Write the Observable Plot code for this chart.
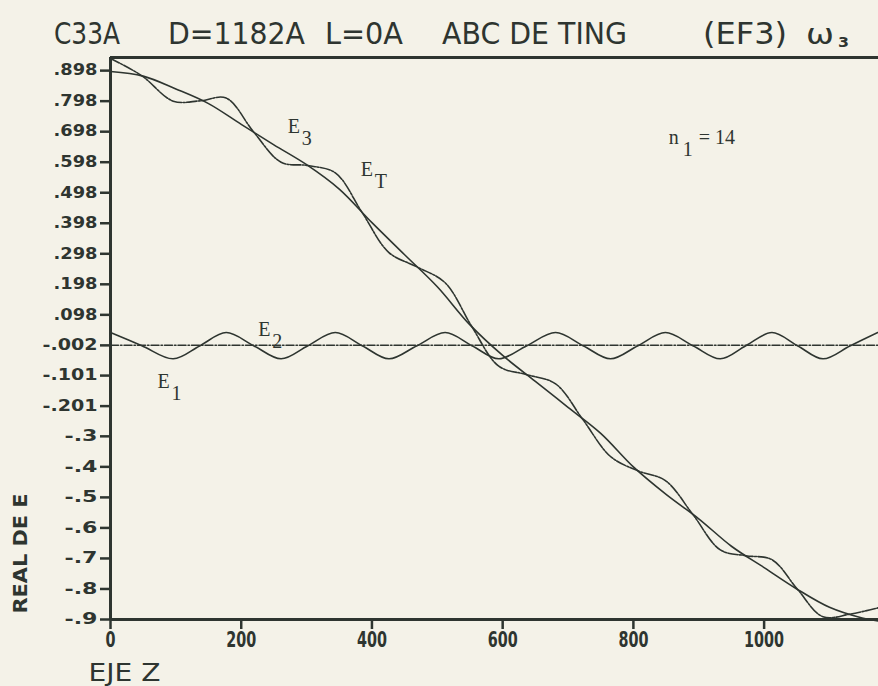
<!DOCTYPE html>
<html><head><meta charset="utf-8">
<script src="https://cdn.jsdelivr.net/npm/d3@7"></script>
<script src="https://cdn.jsdelivr.net/npm/@observablehq/plot@0.6"></script>
<style>
html,body{margin:0;padding:0;background:#f4f2e8;}
#chart svg{display:block;}
</style></head><body>
<div id="chart"></div>
<script>
// ---------- data ----------
const titleTexts = ["C33A", "D=1182A", "L=0A", "ABC DE TING", "(EF3)", "ω", "3"];

const xTicks = [0, 200, 400, 600, 800, 1000];
const yTicks = [0.898, 0.798, 0.698, 0.598, 0.498, 0.398, 0.298, 0.198, 0.098, -0.002, -0.101, -0.201, -0.3, -0.4, -0.5, -0.6, -0.7, -0.8, -0.9];
const yTickLabels = [".898", ".798", ".698", ".598", ".498", ".398", ".298", ".198", ".098", "-.002", "-.101", "-.201", "-.3", "-.4", "-.5", "-.6", "-.7", "-.8", "-.9"];

const e1Z = [0, 200, 400, 600, 800, 1000, 1175];
const e1V = [-0.002, -0.002, -0.002, -0.002, -0.002, -0.002, -0.002];

const e2Z = [0, 48, 96, 137, 177, 219, 261, 302, 344, 385, 426, 469, 512, 553, 594, 637, 681, 723, 765, 807, 849, 891, 933, 972, 1012, 1051, 1090, 1132, 1174];
const e2V = [0.040, -0.003, -0.046, -0.003, 0.040, -0.003, -0.046, -0.003, 0.040, -0.003, -0.046, -0.003, 0.040, -0.003, -0.046, -0.003, 0.040, -0.003, -0.046, -0.003, 0.040, -0.003, -0.046, -0.003, 0.040, -0.003, -0.046, -0.003, 0.040];

const e3Z = [0, 50, 100, 150, 200, 250, 300, 350, 400, 450, 500, 550, 600, 650, 700, 750, 800, 850, 900, 950, 1000, 1050, 1100, 1150, 1175];
const e3V = [0.895, 0.880, 0.838, 0.790, 0.722, 0.655, 0.590, 0.510, 0.400, 0.295, 0.190, 0.065, -0.035, -0.120, -0.205, -0.290, -0.400, -0.490, -0.570, -0.660, -0.730, -0.800, -0.860, -0.895, -0.905];

const etZ = [0, 48, 96, 137, 177, 219, 261, 302, 344, 385, 426, 469, 512, 553, 594, 637, 681, 723, 765, 807, 849, 891, 933, 972, 1012, 1051, 1090, 1132, 1174];
const etV = [0.938, 0.881, 0.798, 0.799, 0.808, 0.697, 0.598, 0.587, 0.563, 0.433, 0.302, 0.255, 0.203, 0.059, -0.070, -0.098, -0.128, -0.246, -0.366, -0.413, -0.445, -0.556, -0.672, -0.691, -0.704, -0.801, -0.891, -0.882, -0.862];

const labelBase = ["E", "E", "E", "E", "n"];
const labelSub  = ["3", "T", "2", "1", "1"];
const labelZ = [271, 383, 226, 72, 854];
const labelV = [0.695, 0.554, 0.030, -0.143, 0.659];
const nValueText = ["= 14"];

const yAxisTitle = ["REAL DE E"];
const xAxisTitle = ["EJE Z"];

// ---------- layout / style ----------
const INK = "#2e3530";
const SANS = "DejaVu Sans";
const titleX = [54, 168, 325, 442, 703, 806, 838];
const titleW = [66, 137, 78, 185, 84, 28, 11];
const TITLE_H = 54;

const toRows = (zs, vs) => zs.map((z, i) => ({z, v: vs[i]}));
const e1 = toRows(e1Z, e1V), e2 = toRows(e2Z, e2V), e3 = toRows(e3Z, e3V), et = toRows(etZ, etV);
const labels = labelBase.map((b, i) => ({base: b, sub: labelSub[i], z: labelZ[i], v: labelV[i]}));
const yLabelMap = new Map(yTicks.map((t, i) => [t, yTickLabels[i]]));

// title
const tsvg = d3.select("#chart").append("svg").attr("width", 878).attr("height", TITLE_H);
titleTexts.forEach((t, i) => {
  const sub = i === 6;
  tsvg.append("text")
    .attr("x", titleX[i]).attr("y", sub ? 47 : 44)
    .attr("font-family", SANS)
    .attr("font-size", sub ? 14 : (i === 5 ? 28 : 30))
    .attr("font-weight", sub ? "bold" : "normal")
    .attr("fill", INK)
    .attr("textLength", titleW[i]).attr("lengthAdjust", "spacingAndGlyphs")
    .text(t);
});

const lbl = {fill: INK, fontFamily: "Liberation Serif", fontSize: 20};
const chart = Plot.plot({
  width: 878, height: 686 - TITLE_H,
  marginTop: 57 - TITLE_H, marginBottom: 67, marginLeft: 110, marginRight: 0,
  style: {background: "transparent", color: INK, overflow: "visible"},
  x: {domain: [0, 1175]},
  y: {domain: [-0.9, 0.941]},
  marks: [
    Plot.ruleY([0.941], {stroke: INK, strokeWidth: 3}),
    Plot.ruleY([-0.9], {stroke: INK, strokeWidth: 3}),
    Plot.ruleX([0], {stroke: INK, strokeWidth: 3}),
    Plot.axisY({ticks: yTicks, anchor: "left", tickFormat: d => yLabelMap.get(d), tickSize: 10, tickPadding: 3, strokeWidth: 2.5, fontSize: 15, fontWeight: "bold", fontFamily: SANS, label: null}),
    Plot.axisX({ticks: xTicks, anchor: "bottom", tickFormat: d => String(d), tickSize: 10, tickPadding: 2, strokeWidth: 2.5, fontSize: 22, fontWeight: "bold", fontFamily: SANS, label: null}),
    Plot.line(e1, {x: "z", y: "v", stroke: INK, strokeWidth: 1.5, strokeDasharray: "8,2,1.5,2"}),
    Plot.line(e2, {x: "z", y: "v", stroke: INK, strokeWidth: 1.6, curve: "catmull-rom"}),
    Plot.line(e3, {x: "z", y: "v", stroke: INK, strokeWidth: 1.6, curve: "catmull-rom"}),
    Plot.line(et, {x: "z", y: "v", stroke: INK, strokeWidth: 1.6, curve: "catmull-rom", strokeDasharray: "10,1.5,2,1.5"}),
    Plot.text(labels, {x: "z", y: "v", text: "base", textAnchor: "start", lineAnchor: "bottom", ...lbl}),
    Plot.text(labels, {x: "z", y: "v", text: "sub", textAnchor: "start", lineAnchor: "bottom", dx: 14, dy: 12, ...lbl}),
    Plot.text(nValueText, {x: () => labelZ[4], y: () => labelV[4], text: d => d, textAnchor: "start", lineAnchor: "bottom", dx: 30, ...lbl}),
    Plot.text(yAxisTitle, {frameAnchor: "bottom-left", text: d => d, rotate: -90, textAnchor: "start", lineAnchor: "middle", dx: -90, dy: -6, fontSize: 20, fontWeight: "bold", fontFamily: SANS, fill: INK}),
    Plot.text(xAxisTitle, {frameAnchor: "bottom-left", text: d => d, textAnchor: "start", lineAnchor: "bottom", dx: -22, dy: 61, fontSize: 24, fontFamily: SANS, fill: INK})
  ]
});
document.getElementById("chart").appendChild(chart);

// condense the printed labels like the plotter's narrow characters
const squeeze = (sel, perChar) => d3.select(chart).selectAll(sel).each(function() {
  d3.select(this).attr("textLength", perChar * this.textContent.length).attr("lengthAdjust", "spacingAndGlyphs");
});
squeeze('g[aria-label="x-axis tick label"] text', 10);
squeeze('g[aria-label="y-axis tick label"] text', 11);
d3.select(chart).selectAll("text").filter(function() { return this.textContent === "REAL DE E"; })
  .attr("textLength", 120).attr("lengthAdjust", "spacingAndGlyphs");
d3.select(chart).selectAll("text").filter(function() { return this.textContent === "EJE Z"; })
  .attr("textLength", 72).attr("lengthAdjust", "spacingAndGlyphs");
</script>
</body></html>
